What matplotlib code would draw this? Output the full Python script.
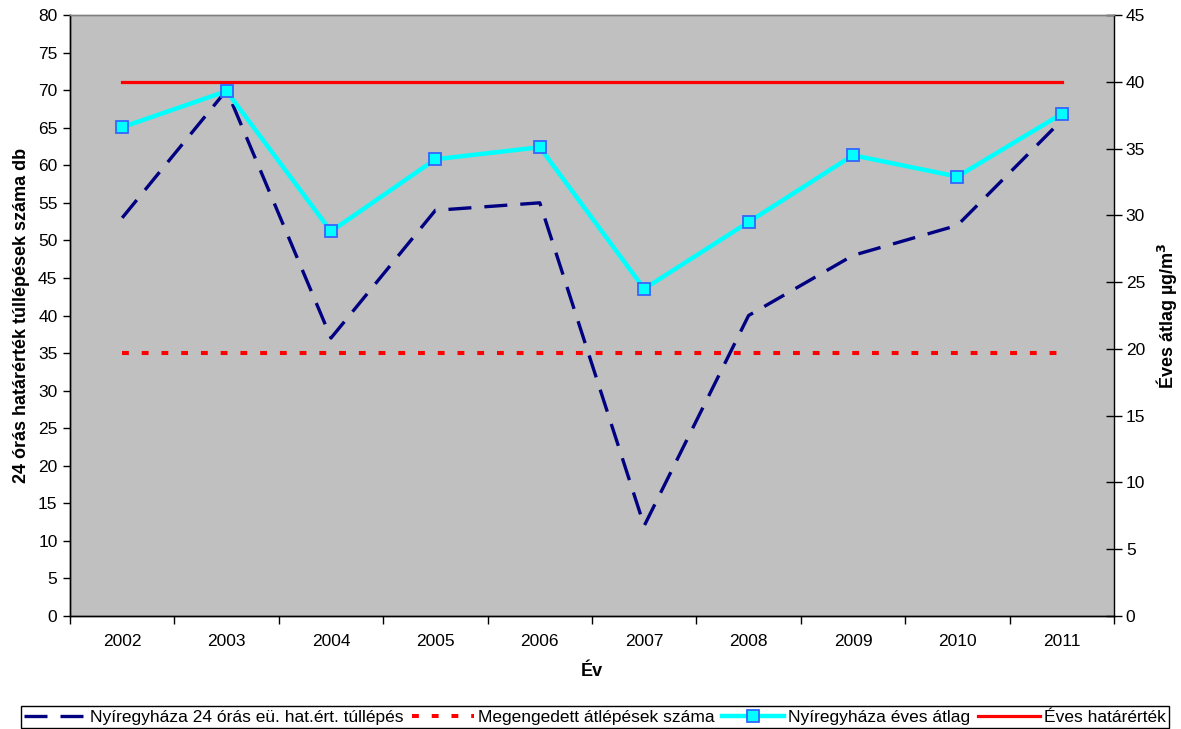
import matplotlib
matplotlib.use("Agg")
import matplotlib.pyplot as plt
from matplotlib.lines import Line2D

plt.rcParams['font.family'] = ['Liberation Sans', 'DejaVu Sans']

years = ['2002', '2003', '2004', '2005', '2006', '2007', '2008', '2009', '2010', '2011']
exceed_24h = [53, 70, 37, 54, 55, 12, 40, 48, 52, 66]
allowed_exceed = [35] * 10
annual_avg = [36.6, 39.3, 28.8, 34.2, 35.1, 24.5, 29.5, 34.5, 32.9, 37.6]
annual_limit = [40] * 10

left_ticks = list(range(0, 81, 5))
right_ticks = list(range(0, 46, 5))

FS = 12.5
LFS = 13

fig = plt.figure(figsize=(11.81, 7.29), dpi=100)
ax = fig.add_axes([70 / 1181, 113 / 729, 1044 / 1181, 601 / 729])
ax.set_facecolor('#C0C0C0')
ax2 = ax.twinx()
ax2.patch.set_visible(False)

x = list(range(len(years)))

navy_style = dict(color='#000080', lw=2.4, dashes=(6.9, 3.9), dash_capstyle='butt')
reddot_style = dict(color='#FF0000', lw=2.9, dashes=(1.7, 3.2), dash_capstyle='butt')
cyan_style = dict(color='#00FFFF', lw=3.2, marker='s', markersize=8.5,
                  markerfacecolor='#00FFFF', markeredgecolor='#3366FF', markeredgewidth=1.3)
red_style = dict(color='#FF0000', lw=2.3)

ax.plot(x, exceed_24h, zorder=3, **navy_style)
ax.plot(x, allowed_exceed, zorder=3, **reddot_style)
ax2.plot(x, annual_avg, zorder=4, **cyan_style)
ax2.plot(x, annual_limit, zorder=3, **red_style)

ax.set_xlim(-0.5, len(years) - 0.5)
ax.set_ylim(0, 80)
ax2.set_ylim(0, 45)
ax.set_yticks(left_ticks)
ax2.set_yticks(right_ticks)

ax.set_xticks(x)
ax.set_xticklabels(years)
ax.set_xticks([i - 0.5 for i in range(len(years) + 1)], minor=True)
ax.tick_params(axis='x', which='major', length=0, pad=13, labelsize=FS)
ax.tick_params(axis='x', which='minor', length=6, width=1, direction='out', color='#000000')
ax.tick_params(axis='y', length=5, width=1, direction='out', labelsize=FS, pad=4)
ax2.tick_params(axis='y', length=11, width=1, direction='inout', labelsize=FS, pad=3)

for a in (ax, ax2):
    a.spines['top'].set_color('#808080')
    a.spines['left'].set_color('#000000')
    a.spines['bottom'].set_color('#000000')
    a.spines['right'].set_color('#000000')
    for s in a.spines.values():
        s.set_linewidth(1)
ax.spines['right'].set_visible(False)

ax.set_xlabel('Év', fontsize=LFS, fontweight='bold', labelpad=10)
ax.set_ylabel('24 órás határérték túllépések száma db', fontsize=LFS, fontweight='bold', labelpad=6)
ax2.set_ylabel(r'Éves átlag µg/m$^{\mathbf{3}}$', fontsize=LFS, fontweight='bold', labelpad=6)

handles = [
    Line2D([], [], **navy_style),
    Line2D([], [], **reddot_style),
    Line2D([], [], **cyan_style),
    Line2D([], [], **red_style),
]
labels = ['Nyíregyháza 24 órás eü. hat.ért. túllépés', 'Megengedett átlépések száma',
          'Nyíregyháza éves átlag', 'Éves határérték']
leg = fig.legend(handles, labels, loc='center', bbox_to_anchor=(595 / 1181, 1 - 717 / 729),
                 ncol=4, fontsize=FS, frameon=True, fancybox=False, framealpha=1,
                 edgecolor='#000000', handlelength=3.6, handletextpad=0.2,
                 columnspacing=0.45, borderpad=0.2, borderaxespad=0)
leg.get_frame().set_linewidth(1)

fig.savefig('out.png', dpi=100)
